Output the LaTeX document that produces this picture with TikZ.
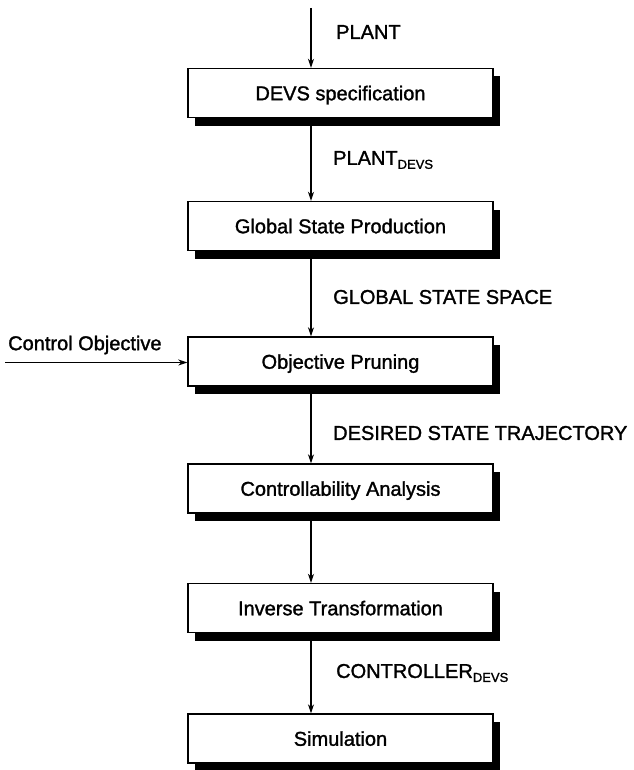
\documentclass[tikz,border=0pt]{standalone}
\usepackage{fontspec}
\setmainfont{Liberation Sans}[BoldFont=Liberation Sans, BoldFeatures={FakeBold=1.4}]
\usetikzlibrary{arrows.meta,shadows}

% subscript label used for the DEVS forms
\newcommand{\devsub}{\raisebox{-4bp}{\fontsize{13bp}{13bp}\selectfont DEVS}}

\begin{document}
\begin{tikzpicture}[x=1bp,y=-1bp,
  every node/.style={font=\fontsize{20bp}{24bp}\selectfont\bfseries},
  stage/.style={draw, line width=1.4bp, fill=white, inner sep=0pt,
    minimum width=305bp, minimum height=49bp, text depth=0pt,
    drop shadow={shadow xshift=7bp, shadow yshift=-8bp, fill=black, opacity=1}},
  flow/.style={line width=1.2bp, -{Stealth[length=9bp,width=6bp]}},
  tag/.style={anchor=west, inner sep=0pt}]

\useasboundingbox (0,0) rectangle (634,770);

% vertical spine shared by all connectors
\coordinate (spine) at (311,0);

% process stages
\node[stage] (spec)  at (340.5,93)    {DEVS specification};
\node[stage] (glob)  at (340.5,226)   {Global State Production};
\node[stage] (prune) at (340.5,361.5) {Objective Pruning};
\node[stage] (ctrl)  at (340.5,488.5) {Controllability Analysis};
\node[stage] (inv)   at (340.5,608)   {Inverse Transformation};
\node[stage] (sim)   at (340.5,738.5) {Simulation};

% inputs
\coordinate (plantin) at (311,8);
\coordinate (objin) at (5,362.5);

% connectors
\draw[flow] (plantin) -- (spec.north -| spine);
\draw[flow] (spec.south -| spine) -- (glob.north -| spine);
\draw[flow] (glob.south -| spine) -- (prune.north -| spine);
\draw[flow] (prune.south -| spine) -- (ctrl.north -| spine);
\draw[flow] (ctrl.south -| spine) -- (inv.north -| spine);
\draw[flow] (inv.south -| spine) -- (sim.north -| spine);
\draw[flow] (objin) -- (prune.west |- objin);

% connector labels
\node[tag] (lplant) at (336,32)  {PLANT};
\node[tag] (ldevs)  at (333,160) {PLANT\devsub};
\node[tag] (lgss)   at (333,297) {GLOBAL STATE SPACE};
\node[tag] (ldst)   at (333,433) {DESIRED STATE TRAJECTORY};
\node[tag] (lcon)   at (336,673) {CONTROLLER\devsub};
\node[tag] (lobj)   at (8,345)   {Control Objective};

\end{tikzpicture}
\end{document}
